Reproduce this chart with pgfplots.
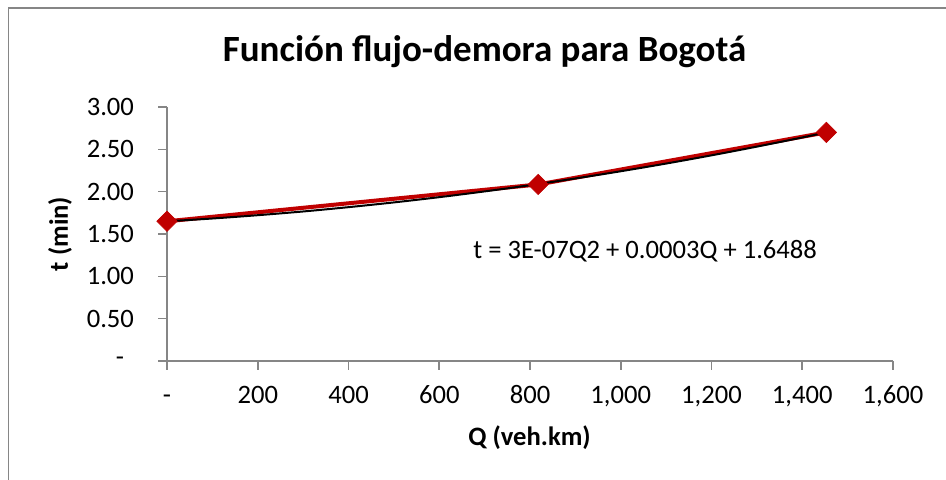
\documentclass[border=0pt]{standalone}
\usepackage{fontspec}
\setmainfont{Carlito}
\usepackage{pgfplots}
\pgfplotsset{compat=1.18}
\definecolor{axgray}{RGB}{134,134,134}
\definecolor{dred}{RGB}{192,0,0}
\begin{document}
\begin{tikzpicture}[x=0.5pt,y=0.5pt]
\path[use as bounding box] (0,0) rectangle (946,480);
\draw[axgray, line width=0.8pt] (8.5,0) -- (8.5,472) -- (946,472);
\begin{axis}[
  at={(83.5pt,59.5pt)}, anchor=south west,
  scale only axis, width=363pt, height=127pt,
  xmin=0, xmax=1600, ymin=0, ymax=3,
  axis lines=left,
  axis line style={-, axgray, line width=0.8pt},
  tick align=outside,
  major tick length=4.5pt,
  tick style={axgray, line width=0.8pt},
  xtick={0,200,400,600,800,1000,1200,1400,1600},
  xticklabels={-,200,400,600,800,{1,000},{1,200},{1,400},{1,600}},
  ytick={0,0.5,1,1.5,2,2.5,3},
  yticklabels={{-\kern5pt},0.50,1.00,1.50,2.00,2.50,3.00},
  xticklabel style={font=\fontsize{13.3}{16}\selectfont, text=black, anchor=base, yshift=-17pt},
  yticklabel style={font=\fontsize{13.3}{16}\selectfont, text=black, xshift=-8.5pt},
  clip=false,
]
\addplot[dred, line width=2pt, mark=square*, mark size=3.6pt,
  mark options={rotate=45, fill=dred, draw=dred, line width=0.3pt, solid}]
  coordinates {(0,1.65) (818,2.085) (1453,2.70)};
\addplot[black, line width=1pt, smooth] coordinates {
 (0,1.650) (100,1.683) (200,1.722) (300,1.766) (400,1.817) (500,1.873)
 (600,1.935) (700,2.003) (800,2.076) (900,2.156) (1000,2.241) (1100,2.332)
 (1200,2.429) (1300,2.532) (1400,2.640) (1453,2.700)};
\end{axis}
\node[font=\bfseries\fontsize{18.5}{22}\selectfont, anchor=base] at (484.5,418) {Función flujo-demora para Bogotá};
\node[font=\bfseries\fontsize{13.3}{16}\selectfont, anchor=base] at (529.5,34) {Q (veh.km)};
\node[font=\bfseries\fontsize{13.3}{16}\selectfont, rotate=90] at (60,246) {t (min)};
\node[font=\fontsize{13.3}{16}\selectfont, anchor=base west, inner sep=0pt] at (473,221) {t = 3E-07Q2 + 0.0003Q + 1.6488};
\end{tikzpicture}
\end{document}
